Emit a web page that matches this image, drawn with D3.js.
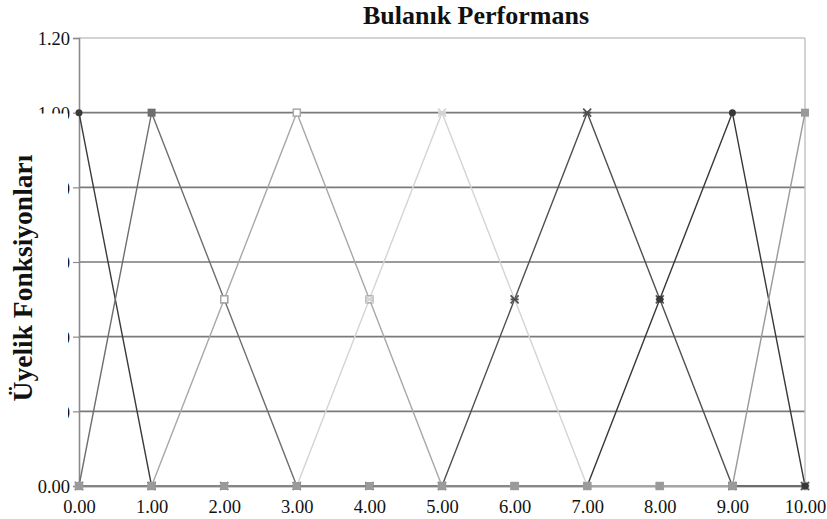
<!DOCTYPE html>
<html>
<head>
<meta charset="utf-8">
<script src="https://cdn.jsdelivr.net/npm/d3@7"></script>
<style>
html,body{margin:0;padding:0;background:#fff;}
svg{display:block;}
text{font-family:"Liberation Serif","Times New Roman",serif;}
</style>
</head>
<body>
<svg id="chart" width="827" height="519"></svg>
<script>
const xValues = [0,1,2,3,4,5,6,7,8,9,10];
const xTickLabels = ["0.00","1.00","2.00","3.00","4.00","5.00","6.00","7.00","8.00","9.00","10.00"];
const yTicks = [0,0.2,0.4,0.6,0.8,1.0,1.2];
const yTickLabels = ["0.00","0.20","0.40","0.60","0.80","1.00","1.20"];
const seriesNames = ["S1","S2","S3","S4","S5","S6","S7"];
const s1 = [1,0,0,0,0,0,0,0,0,0,0];
const s2 = [0,1,0.5,0,0,0,0,0,0,0,0];
const s3 = [0,0,0.5,1,0.5,0,0,0,0,0,0];
const s4 = [0,0,0,0,0.5,1,0.5,0,0,0,0];
const s5 = [0,0,0,0,0,0,0.5,1,0.5,0,0];
const s6 = [0,0,0,0,0,0,0,0,0.5,1,0];
const s7 = [0,0,0,0,0,0,0,0,0,0,1];
const seriesValues = [s1,s2,s3,s4,s5,s6,s7];
const seriesColors = ["#3a3a3a","#6e6e6e","#a8a8a8","#d4d4d4","#505050","#383838","#9a9a9a"];
const seriesMarkers = ["circle","square","openSquare","cross","cross","circle","square"];
const title = "Bulanık Performans";
const yTitle = "Üyelik Fonksiyonları";

const svg = d3.select("#chart");
const x = d3.scaleLinear().domain([0,10]).range([79,805]);
const y = d3.scaleLinear().domain([0,1.2]).range([486,38]);

// gridlines
svg.append("g").selectAll("line").data(yTicks.filter(d=>d>0 && d<1.2)).join("line")
  .attr("x1",x(0)).attr("x2",x(10)).attr("y1",d=>y(d)).attr("y2",d=>y(d))
  .attr("stroke","#7a7a7a").attr("stroke-width",1.7);
// top & right border
svg.append("line").attr("x1",x(0)).attr("x2",x(10)).attr("y1",y(1.2)).attr("y2",y(1.2))
  .attr("stroke","#c4c4c4").attr("stroke-width",1.5);
svg.append("line").attr("x1",x(10)).attr("x2",x(10)).attr("y1",y(1.2)).attr("y2",y(0))
  .attr("stroke","#c4c4c4").attr("stroke-width",1.5);

// y axis
const yAxis = d3.axisLeft(y).tickValues(yTicks).tickSize(6).tickFormat((d,i)=>yTickLabels[i]);
const gy = svg.append("g").attr("transform",`translate(${x(0)},0)`).call(yAxis);
gy.select(".domain").attr("stroke","#8a8a8a").attr("stroke-width",1.6);
gy.selectAll(".tick line").attr("stroke","#8a8a8a").attr("stroke-width",1.2);
gy.selectAll(".tick text").attr("x",-9).attr("dy","0.36em")
  .style("font-family",'"Liberation Serif",serif').style("font-size","18.5px").attr("fill","#111");

// x axis
const gx = svg.append("g").attr("transform",`translate(0,${y(0)})`)
  .call(d3.axisBottom(x).tickValues(xValues).tickSize(0).tickFormat((d,i)=>xTickLabels[i]));
gx.select(".domain").attr("stroke","#bdbdbd").attr("stroke-width",2.5);
gx.selectAll(".tick text").attr("y",14).attr("dy","0.71em")
  .style("font-family",'"Liberation Serif",serif').style("font-size","18.5px").attr("fill","#111");

// series lines
const line = d3.line().x((d,i)=>x(xValues[i])).y(d=>y(d));
const gs = svg.append("g");
seriesValues.forEach((vals,k)=>{
  gs.append("path").datum(vals).attr("d",line).attr("fill","none")
    .attr("stroke",seriesColors[k]).attr("stroke-width",1.4);
});
// markers
seriesValues.forEach((vals,k)=>{
  const g = gs.append("g");
  const m = seriesMarkers[k], c = seriesColors[k];
  vals.forEach((v,i)=>{
    const cx = x(xValues[i]), cy = y(v);
    if(m==="circle"){
      g.append("circle").attr("cx",cx).attr("cy",cy).attr("r",3.5).attr("fill",c);
    } else if(m==="square"){
      g.append("rect").attr("x",cx-4).attr("y",cy-4).attr("width",8).attr("height",8).attr("fill",c);
    } else if(m==="openSquare"){
      g.append("rect").attr("x",cx-3.5).attr("y",cy-3.5).attr("width",7).attr("height",7)
        .attr("fill","#fff").attr("stroke",c).attr("stroke-width",1.5);
    } else {
      g.append("path").attr("d",`M${cx-4},${cy-4}L${cx+4},${cy+4}M${cx+4},${cy-4}L${cx-4},${cy+4}M${cx-4},${cy}L${cx+4},${cy}`)
        .attr("stroke",c).attr("stroke-width",1.6);
    }
  });
});

// y title box covering labels
svg.append("rect").attr("x",0).attr("y",113.5).attr("width",68).attr("height",310).attr("fill","#fff");
svg.append("text").attr("transform",`translate(32,278) rotate(-90)`)
  .attr("text-anchor","middle").style("font-size","27.5px").style("font-weight","bold").attr("fill","#111")
  .text(yTitle);

// title
svg.append("text").attr("x",476).attr("y",24).attr("text-anchor","middle")
  .style("font-size","26px").style("font-weight","bold").attr("fill","#111").text(title);
</script>
</body>
</html>
